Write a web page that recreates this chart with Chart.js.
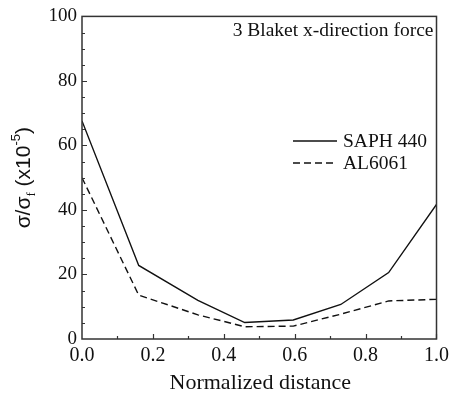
<!DOCTYPE html>
<html>
<head>
<meta charset="utf-8">
<script src="https://cdn.jsdelivr.net/npm/chart.js@4.4.1/dist/chart.umd.min.js"></script>
<style>
  html, body { margin: 0; padding: 0; background: #fff; }
  #wrap { width: 454px; height: 399px; position: relative; }
</style>
</head>
<body>
<div id="wrap"><canvas id="chart" width="454" height="399"></canvas></div>
<script>
// normalized distance positions
const distance = [0, 0.16, 0.327, 0.459, 0.596, 0.73, 0.865, 1.0]
// sigma / sigma_f  (x10^-5)
const saph440 = [67.6, 22.8, 12.0, 5.1, 5.9, 10.7, 20.6, 41.7]
const al6061 = [50.0, 13.6, 7.5, 3.8, 4.0, 7.7, 11.8, 12.3]

const xTicks = [0, 0.2, 0.4, 0.6, 0.8, 1.0]
const yTicks = [0, 20, 40, 60, 80, 100]
const seriesNames = ['SAPH 440', 'AL6061']
const annotation = '3 Blaket x-direction force'
const xTitle = 'Normalized distance'

const serif = '"Liberation Serif", "Times New Roman", serif'
const sans = '"Liberation Sans", Arial, sans-serif'

const toPoints = (ys) => distance.map((x, i) => ({ x: x, y: ys[i] }))

// frame, inward ticks, titles, legend, note
const decor = {
  id: 'decor',
  afterDraw(chart) {
    const ctx = chart.ctx
    const a = chart.chartArea
    const xs = chart.scales.x
    const ys = chart.scales.y
    ctx.save()

    // ticks (inside)
    ctx.strokeStyle = '#333'
    ctx.lineWidth = 1.2
    ctx.beginPath()
    for (let v = 0.1; v < 1; v += 0.1) {
      const px = Math.round(xs.getPixelForValue(v)) + 0.5
      const major = Math.abs(v * 5 - Math.round(v * 5)) < 0.01
      ctx.moveTo(px, a.bottom)
      ctx.lineTo(px, a.bottom - (major ? 5 : 3))
    }
    for (let v = 5; v < 100; v += 5) {
      const py = Math.round(ys.getPixelForValue(v)) + 0.5
      const major = v % 20 === 0
      ctx.moveTo(a.left, py)
      ctx.lineTo(a.left + (major ? 5 : 3), py)
    }
    ctx.stroke()

    // frame
    ctx.lineWidth = 1.5
    ctx.strokeStyle = '#333'
    ctx.strokeRect(a.left, a.top, a.right - a.left, a.bottom - a.top)

    ctx.fillStyle = '#111'
    // note in the corner
    ctx.font = '19.5px ' + serif
    ctx.textAlign = 'right'
    ctx.textBaseline = 'alphabetic'
    ctx.fillText(annotation, a.right - 3, a.top + 20)

    // legend
    const ds = chart.data.datasets
    ctx.font = '19.5px ' + serif
    ctx.textAlign = 'left'
    ctx.textBaseline = 'middle'
    ds.forEach((d, i) => {
      const y = 141 + i * 22
      ctx.save()
      ctx.strokeStyle = d.borderColor
      ctx.lineWidth = d.borderWidth
      ctx.setLineDash(d.borderDash || [])
      ctx.beginPath()
      ctx.moveTo(293, y)
      ctx.lineTo(337, y)
      ctx.stroke()
      ctx.restore()
      ctx.fillText(d.label, 343, y + 1)
    })

    // x title
    ctx.font = '22px ' + serif
    ctx.textAlign = 'center'
    ctx.textBaseline = 'alphabetic'
    ctx.fillText(xTitle, (a.left + a.right) / 2 + 1, 389)

    // y title, rotated, built from parts
    const parts = [
      { t: '\u03c3/\u03c3', f: '21px ' + sans, dy: 0 },
      { t: 'f', f: '13px ' + serif, dy: 5 },
      { t: ' (x10', f: '21px ' + sans, dy: 0 },
      { t: '-5', f: '13px ' + sans, dy: -10 },
      { t: ')', f: '21px ' + sans, dy: 0 }
    ]
    let total = 0
    parts.forEach(p => { ctx.font = p.f; p.w = ctx.measureText(p.t).width; total += p.w })
    ctx.translate(30, (a.top + a.bottom) / 2)
    ctx.rotate(-Math.PI / 2)
    ctx.textAlign = 'left'
    let cx = -total / 2
    parts.forEach(p => {
      ctx.font = p.f
      ctx.fillText(p.t, cx, p.dy)
      cx += p.w
    })
    ctx.restore()
  }
}

new Chart(document.getElementById('chart'), {
  type: 'scatter',
  data: {
    datasets: [
      {
        label: seriesNames[0],
        data: toPoints(saph440),
        showLine: true,
        borderColor: '#111',
        borderWidth: 1.4,
        pointRadius: 0,
        tension: 0
      },
      {
        label: seriesNames[1],
        data: toPoints(al6061),
        showLine: true,
        borderColor: '#111',
        borderWidth: 1.4,
        borderDash: [7, 4],
        pointRadius: 0,
        tension: 0
      }
    ]
  },
  options: {
    responsive: false,
    animation: false,
    devicePixelRatio: 1,
    layout: { padding: { top: 15, right: 15, left: 0, bottom: 0 } },
    plugins: { legend: { display: false }, tooltip: { enabled: false } },
    scales: {
      x: {
        type: 'linear',
        min: 0,
        max: 1,
        afterFit: (s) => { s.height = 60 },
        afterBuildTicks: (s) => { s.ticks = xTicks.map(v => ({ value: v })) },
        grid: { display: false, drawTicks: false },
        border: { display: false },
        ticks: {
          padding: 5,
          color: '#111',
          font: { family: serif, size: 20 },
          callback: (v) => v.toFixed(1)
        }
      },
      y: {
        type: 'linear',
        min: 0,
        max: 100,
        afterFit: (s) => { s.width = 82 },
        afterBuildTicks: (s) => { s.ticks = yTicks.map(v => ({ value: v })) },
        grid: { display: false, drawTicks: false },
        border: { display: false },
        ticks: {
          padding: 5,
          color: '#111',
          font: { family: serif, size: 19 }
        }
      }
    }
  },
  plugins: [decor]
})
</script>
</body>
</html>
